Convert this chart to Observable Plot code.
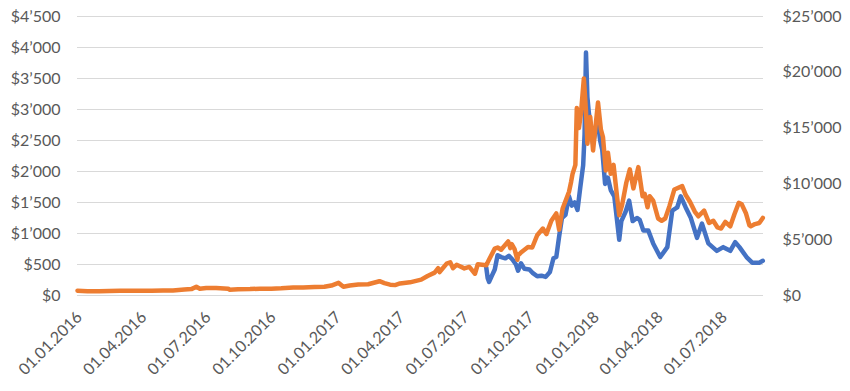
<!DOCTYPE html>
<html>
<head>
<meta charset="utf-8">
<script src="https://cdn.jsdelivr.net/npm/d3@7"></script>
<script src="https://cdn.jsdelivr.net/npm/@observablehq/plot@0.6"></script>
<style>
  html, body { margin: 0; padding: 0; background: #ffffff; }
  #chart svg { font-family: Lato, "Open Sans", sans-serif; }
</style>
</head>
<body>
<div id="chart"></div>
<script>
// Orange series (right axis, $0 – $25'000)
const btcDates = [
  "2016-01-01","2016-01-15","2016-02-01","2016-02-15","2016-03-01","2016-03-15","2016-04-01","2016-04-15",
  "2016-05-01","2016-05-15","2016-05-31","2016-06-10","2016-06-17","2016-06-22","2016-07-01","2016-07-15",
  "2016-08-01","2016-08-03","2016-08-15","2016-09-01","2016-09-15","2016-10-01","2016-10-15","2016-11-01",
  "2016-11-15","2016-12-01","2016-12-15","2016-12-25","2017-01-04","2017-01-11","2017-01-20","2017-02-01",
  "2017-02-15","2017-03-03","2017-03-10","2017-03-18","2017-03-25","2017-04-01","2017-04-15","2017-05-01",
  "2017-05-10","2017-05-20","2017-05-25","2017-05-27","2017-06-06","2017-06-11","2017-06-15","2017-06-20",
  "2017-07-01","2017-07-08","2017-07-16","2017-07-20","2017-08-01","2017-08-05","2017-08-13","2017-08-17",
  "2017-08-22","2017-09-01","2017-09-04","2017-09-06","2017-09-10","2017-09-14","2017-09-15","2017-09-20",
  "2017-09-29","2017-10-05","2017-10-12","2017-10-20","2017-10-25","2017-11-01","2017-11-08","2017-11-12",
  "2017-11-17","2017-11-26","2017-11-29","2017-12-01","2017-12-05","2017-12-07","2017-12-10","2017-12-13",
  "2017-12-17","2017-12-20","2017-12-22","2017-12-26","2017-12-30","2018-01-06","2018-01-10","2018-01-13",
  "2018-01-17","2018-01-20","2018-01-24","2018-01-28","2018-02-02","2018-02-05","2018-02-09","2018-02-15",
  "2018-02-20","2018-02-25","2018-03-04","2018-03-10","2018-03-13","2018-03-17","2018-03-20","2018-03-25",
  "2018-04-01","2018-04-06","2018-04-11","2018-04-17","2018-04-24","2018-05-05","2018-05-10","2018-05-16",
  "2018-05-23","2018-05-28","2018-06-05","2018-06-12","2018-06-18","2018-06-24","2018-06-29","2018-07-05",
  "2018-07-12","2018-07-18","2018-07-24","2018-07-28","2018-08-03","2018-08-08","2018-08-10","2018-08-16",
  "2018-08-22","2018-08-27"
];
const btcValues = [
  430,385,375,405,435,415,415,425,
  450,455,530,575,780,600,675,665,
  610,520,570,575,610,610,640,720,
  710,755,780,890,1130,780,895,985,
  1010,1280,1110,970,930,1080,1180,1420,
  1750,2050,2450,2100,2860,2970,2450,2750,
  2430,2560,1950,2800,2720,3220,4200,4300,
  4100,4850,4250,4600,4150,3200,3600,3900,
  4350,4300,5400,6000,5500,6700,7350,5900,
  7800,9300,10200,10900,11700,16800,15000,16400,
  19450,16500,13600,16000,13000,17300,14900,14200,
  11200,12800,10900,11700,8800,7200,8100,10100,
  11300,9600,11500,8900,9100,7900,8900,8500,
  6900,6700,6900,8000,9500,9800,9000,8400,
  7500,7100,7600,6500,6700,6100,6000,6600,
  6200,7300,8300,8200,7400,6300,6200,6400,
  6500,6950
];

// Blue series (left axis, $0 – $4'500)
const bchDates = [
  "2017-08-01","2017-08-03","2017-08-05","2017-08-09","2017-08-13","2017-08-17","2017-08-22","2017-08-28",
  "2017-09-02","2017-09-07","2017-09-12","2017-09-15","2017-09-19","2017-09-24","2017-10-01","2017-10-06",
  "2017-10-12","2017-10-18","2017-10-24","2017-10-30","2017-11-04","2017-11-08","2017-11-12","2017-11-16",
  "2017-11-21","2017-11-26","2017-11-30","2017-12-04","2017-12-08","2017-12-12","2017-12-16","2017-12-18",
  "2017-12-20","2017-12-22","2017-12-24","2017-12-27","2017-12-30","2018-01-03","2018-01-06","2018-01-09",
  "2018-01-12","2018-01-16","2018-01-20","2018-01-24","2018-01-29","2018-02-02","2018-02-05","2018-02-08",
  "2018-02-14","2018-02-19","2018-02-24","2018-03-02","2018-03-06","2018-03-11","2018-03-18","2018-03-25",
  "2018-04-04","2018-04-14","2018-04-21","2018-04-28","2018-05-03","2018-05-10","2018-05-17","2018-05-26",
  "2018-06-02","2018-06-11","2018-06-23","2018-07-02","2018-07-12","2018-07-19","2018-07-25","2018-08-04",
  "2018-08-12","2018-08-22","2018-08-27"
];
const bchValues = [
  450,280,220,320,420,650,620,600,
  640,580,500,400,520,430,420,360,
  310,320,300,380,600,620,950,1250,
  1300,1600,1450,1500,1380,1750,2100,2600,
  3920,3200,2950,2700,2450,2700,2800,2500,
  2350,1800,1900,1700,1600,1200,900,1200,
  1350,1530,1200,1250,1220,1050,1050,840,
  620,780,1370,1420,1600,1420,1260,930,
  1160,840,720,780,720,860,780,620,
  530,530,560
];

const leftTicks = [0, 500, 1000, 1500, 2000, 2500, 3000, 3500, 4000, 4500];
const rightTicks = [0, 5000, 10000, 15000, 20000, 25000];
const xTickDates = ["2016-01-01","2016-04-01","2016-07-01","2016-10-01","2017-01-01","2017-04-01",
  "2017-07-01","2017-10-01","2018-01-01","2018-04-01","2018-07-01"];

const leftMax = 4500, rightMax = 25000;
const ratio = leftMax / rightMax;

const locale = d3.formatLocale({decimal: ".", thousands: "\u2019", grouping: [3], currency: ["$", ""]});
const money = locale.format("$,.0f");
const dateFmt = d3.utcFormat("%d.%m.%Y");

const btc = btcDates.map((d, i) => ({date: new Date(d), v: btcValues[i]}));
const bch = bchDates.map((d, i) => ({date: new Date(d), v: bchValues[i]}));

const textColor = "#595959";

const chart = Plot.plot({
  width: 850,
  height: 391,
  marginLeft: 77,
  marginRight: 87,
  marginTop: 16,
  marginBottom: 96,
  style: {fontSize: "16px", color: textColor, background: "#ffffff"},
  x: {type: "utc", domain: [new Date("2016-01-01"), new Date("2018-08-28")]},
  y: {domain: [0, leftMax]},
  marks: [
    Plot.gridY(leftTicks, {stroke: "#d9d9d9", strokeOpacity: 1, strokeWidth: 1}),
    Plot.axisY(leftTicks, {anchor: "left", label: null, tickSize: 0, tickPadding: 17, tickFormat: money, fill: textColor, fontSize: 16}),
    Plot.axisY(rightTicks.map(t => t * ratio), {anchor: "right", label: null, tickSize: 0, tickPadding: 19,
      tickFormat: d => money(Math.round(d / ratio)), fill: textColor, fontSize: 16, textAnchor: "start"}),
    Plot.axisX(xTickDates.map(d => new Date(d)), {anchor: "bottom", label: null, tickSize: 0, tickPadding: 19, dx: 2, tickRotate: -45,
      tickFormat: dateFmt, fill: textColor, fontSize: 16}),
    Plot.lineY(bch, {x: "date", y: "v", stroke: "#4472C4", strokeWidth: 4.5, strokeLinejoin: "round", strokeLinecap: "round"}),
    Plot.lineY(btc, {x: "date", y: d => d.v * ratio, stroke: "#ED7D31", strokeWidth: 4.5, strokeLinejoin: "round", strokeLinecap: "round"})
  ]
});
document.getElementById("chart").appendChild(chart);
</script>
</body>
</html>
